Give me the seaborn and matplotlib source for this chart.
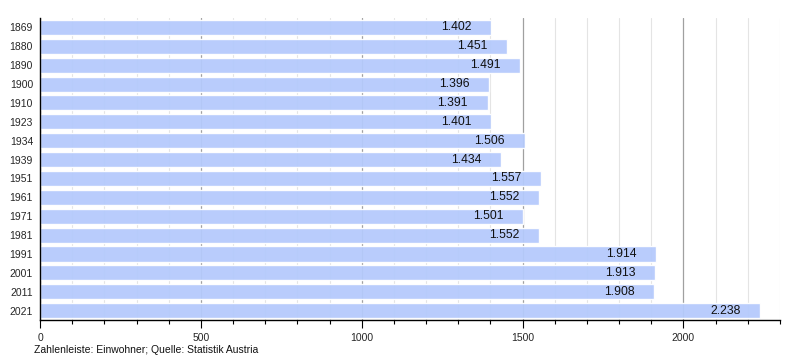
import matplotlib
matplotlib.use("Agg")
import matplotlib.pyplot as plt
from matplotlib.ticker import MultipleLocator
import seaborn as sns
import pandas as pd

years = ["1869", "1880", "1890", "1900", "1910", "1923", "1934", "1939",
         "1951", "1961", "1971", "1981", "1991", "2001", "2011", "2021"]
population = [1402, 1451, 1491, 1396, 1391, 1401, 1506, 1434,
              1557, 1552, 1501, 1552, 1914, 1913, 1908, 2238]
labels = ["1.402", "1.451", "1.491", "1.396", "1.391", "1.401", "1.506", "1.434",
          "1.557", "1.552", "1.501", "1.552", "1.914", "1.913", "1.908", "2.238"]

df = pd.DataFrame({"Jahr": years, "Einwohner": population})

sns.set_theme(style="white")
plt.rcParams["font.family"] = ["Liberation Sans", "DejaVu Sans"]

fig = plt.figure(figsize=(8, 3.6), dpi=100)
ax = fig.add_axes([0.05, 0.111, 0.925, 0.839])

ax.set_axisbelow(True)
ax.xaxis.set_major_locator(MultipleLocator(500))
ax.xaxis.set_minor_locator(MultipleLocator(100))
ax.grid(axis="x", which="major", color="#a0a0a0", linewidth=0.9)
ax.grid(axis="x", which="minor", color="#e4e4e4", linewidth=0.8)

sns.barplot(data=df, x="Einwohner", y="Jahr", orient="h", color="#b5cafc",
            saturation=1, width=0.8, ax=ax, alpha=0.95)

for i, (v, lab) in enumerate(zip(population, labels)):
    ax.annotate(lab, xy=(v, i), xytext=(-14, 0), textcoords="offset points",
                ha="right", va="center", fontsize=8.7, color="#111111")

ax.set_xlim(0, 2300)
ax.set_ylim(15.5, -0.5)
ax.set_xlabel("")
ax.set_ylabel("")
for s in ["top", "right"]:
    ax.spines[s].set_visible(False)
ax.spines["left"].set_color("black")
ax.spines["bottom"].set_color("black")
ax.spines["left"].set_linewidth(1)
ax.spines["bottom"].set_linewidth(1)
ax.tick_params(axis="x", which="major", length=6, width=0.8, color="black",
               labelsize=7.5, pad=3, bottom=True)
ax.tick_params(axis="x", which="minor", length=3, width=0.8, color="black", bottom=True)
ax.tick_params(axis="y", length=0, labelsize=7.5, pad=5)

fig.text(0.043, 0.02, "Zahlenleiste: Einwohner; Quelle: Statistik Austria",
         fontsize=7.5, color="#111111")

fig.savefig("out.png", dpi=100)
